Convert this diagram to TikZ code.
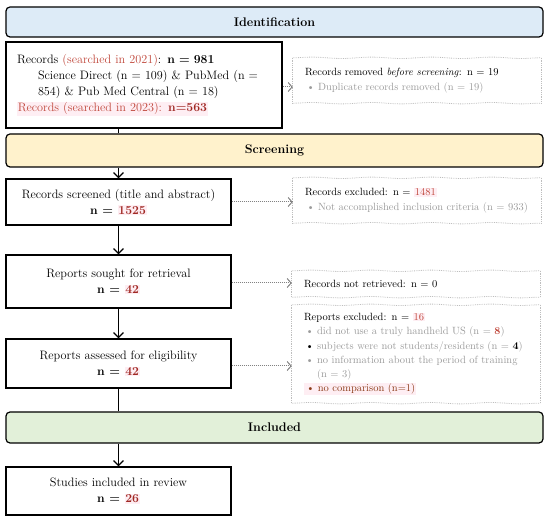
\documentclass[tikz,border=0pt]{standalone}
\usepackage{xcolor}
\usetikzlibrary{arrows.meta,decorations.pathmorphing}
\definecolor{idblue}{RGB}{221,235,247}
\definecolor{scyellow}{RGB}{255,242,204}
\definecolor{ingreen}{RGB}{226,240,217}
\definecolor{redtxt}{RGB}{192,72,60}
\definecolor{darkred}{RGB}{160,40,35}
\definecolor{graytxt}{RGB}{155,155,155}
\definecolor{browntxt}{RGB}{140,60,25}
\definecolor{hlpink}{RGB}{254,238,243}
\definecolor{boxgray}{RGB}{190,190,190}
\definecolor{arrowgray}{RGB}{130,130,130}
\newcommand{\hlpk}[1]{{\setlength{\fboxsep}{0.8pt}\colorbox{hlpink}{#1}}}
\newcommand{\bitem}[1]{\makebox[13pt][l]{\hspace{1.5pt}\textcolor{#1}{\textbullet}}}
\tikzset{
  banner/.style={draw=black, line width=1.2pt, rounded corners=4pt, minimum width=537pt,
    font=\fontsize{12.5}{14}\selectfont\bfseries, inner sep=0pt},
  mainbox/.style={draw=black, line width=1.2pt, minimum width=225pt, align=center,
    font=\fontsize{12.2}{16}\selectfont, inner sep=0pt},
  sidebox/.style={align=left, font=\fontsize{10.5}{14.3}\selectfont, inner ysep=0pt,
    inner xsep=12pt, text width=224pt},
  sideedge/.style={draw=boxgray, densely dotted, line width=0.8pt},
  wavyedge/.style={sideedge, decorate, decoration={snake, amplitude=0.7pt, segment length=60pt}},
  flowline/.style={line width=1.2pt},
  flowarrow/.style={line width=1.2pt, -{Straight Barb[length=5pt,width=10pt]}},
  sidearrow/.style={draw=arrowgray, densely dotted, line width=1pt,
    -{Straight Barb[length=4pt,width=9pt]}}
}
\begin{document}
\begin{tikzpicture}[x=1pt,y=-1pt]
\useasboundingbox (0,0) rectangle (550,521);
% banners
\node[banner, fill=idblue, minimum height=30pt] (idb) at (274.5,22) {Identification};
\node[banner, fill=scyellow, minimum height=33pt] (scb) at (274.5,150.5) {Screening};
\node[banner, fill=ingreen, minimum height=31pt] (inb) at (274.5,427.5) {Included};
% main boxes
\node[mainbox, minimum width=276pt, minimum height=86pt, align=left, text width=254pt, inner xsep=11pt] (rec) at (144,85)
 {Records \textcolor{redtxt}{(searched in 2021)}: \textbf{n = 981}\\
  \hspace*{21pt}Science Direct (n = 109) \& PubMed (n =\\
  \hspace*{21pt}854) \& Pub Med Central (n = 18)\\
  \hlpk{\textcolor{redtxt}{Records (searched in 2023):} \textbf{\textcolor{darkred}{n=563}}}};
\node[mainbox, minimum height=46pt] (rs) at (118.5,202)
 {Records screened (title and abstract)\\ \textbf{n = \hlpk{\textcolor{darkred}{1525}}}};
\node[mainbox, minimum height=53pt] (rsr) at (118.5,281.5)
 {Reports sought for retrieval\\ \textbf{n = \hlpk{\textcolor{darkred}{42}}}};
\node[mainbox, minimum height=49pt] (rae) at (118.5,363.5)
 {Reports assessed for eligibility\\ \textbf{n = \hlpk{\textcolor{darkred}{42}}}};
\node[mainbox, minimum height=48pt] (sir) at (118.5,491)
 {Studies included in review\\ \textbf{n = \hlpk{\textcolor{darkred}{26}}}};
% side boxes
\node[sidebox, minimum height=45pt] (rm) at (417,80.5)
 {Records removed \textit{before screening}: n = 19\\
  \textcolor{graytxt}{\bitem{graytxt}Duplicate records removed (n = 19)}};
\node[sidebox, minimum height=45pt] (rx) at (417,200.5)
 {Records excluded: n = \hlpk{\textcolor{redtxt}{1481}}\\
  \textcolor{graytxt}{\bitem{graytxt}Not accomplished inclusion criteria (n = 933)}};
\node[sidebox, minimum height=26pt] (rnr) at (416,284)
 {Records not retrieved: n = 0};
\node[sidebox, minimum height=98pt] (rpx) at (416,354)
 {Reports excluded: n = \hlpk{\textcolor{redtxt}{16}}\\
  \textcolor{graytxt}{\bitem{graytxt}did not use a truly handheld US (n = \textbf{\textcolor{redtxt}{8}})}\\
  \textcolor{graytxt}{\bitem{black}subjects were not students/residents (n = \textbf{\textcolor{black}{4}})}\\
  \textcolor{graytxt}{\bitem{graytxt}no information about the period of training}\\
  \textcolor{graytxt}{\hspace*{13pt}(n = 3)}\\
  \hlpk{\bitem{browntxt}\textcolor{browntxt}{no comparison (n=1)}}};
\foreach \n in {rm,rx,rnr,rpx}{
  \draw[wavyedge] (\n.north west) -- (\n.north east);
  \draw[wavyedge] (\n.south west) -- (\n.south east);
  \draw[sideedge] (\n.north west) -- (\n.south west);
  \draw[sideedge] (\n.north east) -- (\n.south east);
}
% main flow
\draw[flowline] (rec.south -| rs.north) -- (scb.north -| rs.north);
\draw[flowarrow] (scb.south -| rs.north) -- (rs.north);
\draw[flowarrow] (rs.south) -- (rsr.north);
\draw[flowarrow] (rsr.south) -- (rae.north);
\draw[flowline] (rae.south) -- (inb.north -| rae.south);
\draw[flowarrow] (inb.south -| sir.north) -- (sir.north);
% side arrows
\draw[sidearrow] ([yshift=-2pt]rec.east) -- ([yshift=-2pt]rec.east -| rm.west);
\draw[sidearrow] (rs.east) -- (rs.east -| rx.west);
\draw[sidearrow] ([yshift=-1.5pt]rsr.east) -- ([yshift=-1.5pt]rsr.east -| rnr.west);
\draw[sidearrow] ([yshift=-2.5pt]rae.east) -- ([yshift=-2.5pt]rae.east -| rpx.west);
\end{tikzpicture}
\end{document}
